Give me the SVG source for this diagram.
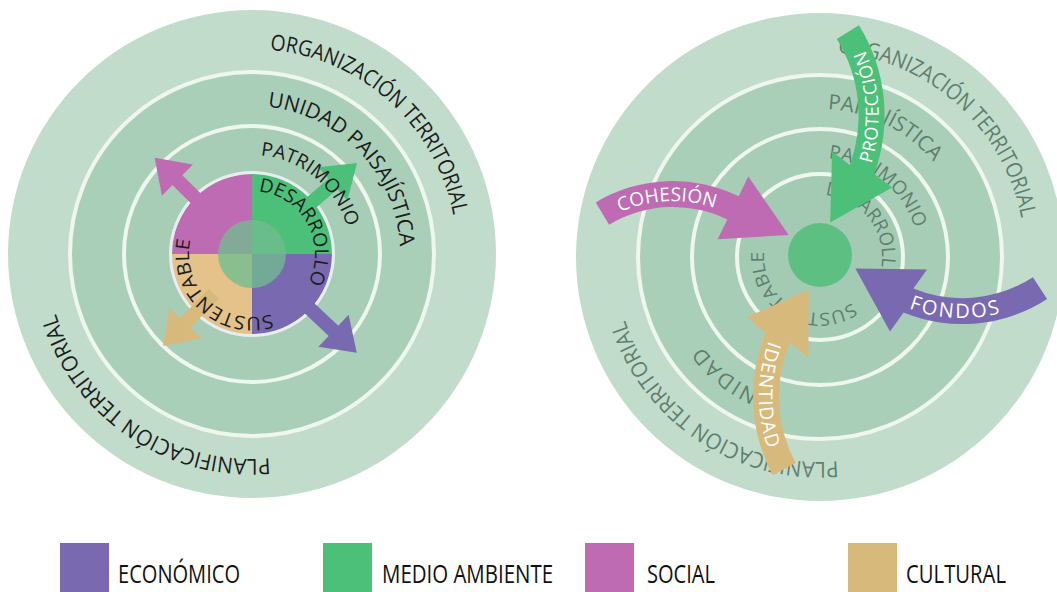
<svg xmlns="http://www.w3.org/2000/svg" width="1057" height="592" viewBox="0 0 1057 592">
<style>
  .outer{fill:#c1dccb}
  .band1{fill:#aacfb9}
  .band2{fill:#a7cdb6}
  .band3{fill:#a3cbb3}
  .ring{fill:none;stroke:#eef6ee;stroke-width:4}
  .t{font-family:"Open Sans","Noto Sans","Liberation Sans",sans-serif}
  .dark{fill:#1c1c1c}
  .grey{fill:#5f7e6d}
  .wht{fill:#ffffff}
  .leg{font-family:"Open Sans","Noto Sans","Liberation Sans",sans-serif;font-size:25px;fill:#111111}
  .eco{fill:#7869b0}
  .med{fill:#4cbf79}
  .soc{fill:#be6bb3}
  .cul{fill:#d8b97c}
</style>
<defs>
  <!-- left circle text paths, centre (252,254) -->
  <path id="L1" d="M269.87,49.78 A205,205 0 0 1 453.23,214.88"/>
  <path id="L2" d="M267.47,106.81 A148,148 0 0 1 399.8,246.25"/>
  <path id="L3" d="M260.63,155.38 A99,99 0 0 1 347.16,226.71"/>
  <path id="L4" d="M258.59,191.35 A63,63 0 0 1 308.13,282.6"/>
  <path id="L5" d="M271.47,313.92 A63,63 0 0 1 190.62,239.83"/>
  <path id="L6" d="M269.87,458.22 A205,205 0 0 1 55.96,313.94"/>
  <!-- right circle text paths, centre (820,257) -->
  <path id="R1" d="M837.87,52.78 A205,205 0 0 1 1021.23,217.88"/>
  <path id="R2" d="M827.75,109.2 A148,148 0 0 1 933.37,161.87"/>
  <path id="R3" d="M774.3,397.8 A148,148 0 0 1 698.8,341.9"/>
  <path id="R4" d="M828.63,158.38 A99,99 0 0 1 914.67,228.06"/>
  <path id="R5" d="M825.4,195.24 A62,62 0 0 1 877.49,280.23"/>
  <path id="R6" d="M852.12,302.87 A56,56 0 0 1 764.21,252.12"/>
  <path id="R7" d="M837.87,461.22 A205,205 0 0 1 625.03,320.35"/>
  <!-- arrow label paths -->
  <path id="A1" d="M620.1,212.2 A130,130 0 0 1 713.2,207.4"/>
  <path id="A2" d="M871.4,163.6 A165,165 0 0 0 864.3,48.3"/>
  <path id="A3" d="M908.8,308.2 A149.3,149.3 0 0 0 1000.9,313"/>
  <path id="A4" d="M768.8,340.7 A162.6,162.6 0 0 0 768.8,451.9"/>
</defs>

<!-- ================= LEFT DIAGRAM ================= -->
<g id="left-rings">
  <circle class="outer" cx="252" cy="254" r="244"/>
  <circle class="band1" cx="252" cy="254" r="182"/>
  <circle class="band2" cx="252" cy="254" r="128"/>
  <circle class="ring" cx="252" cy="254" r="182"/>
  <circle class="ring" cx="252" cy="254" r="128"/>
</g>
<g id="left-core">
  <path class="soc" d="M252,254 L172,254 A80,80 0 0 1 252,174 Z"/>
  <path class="med" d="M252,254 L252,174 A80,80 0 0 1 332,254 Z"/>
  <path class="eco" d="M252,254 L332,254 A80,80 0 0 1 252,334 Z"/>
  <path fill="#e4c289" d="M252,254 L252,334 A80,80 0 0 1 172,254 Z"/>
  <circle cx="252" cy="254" r="81.5" fill="none" stroke="#e9edf0" stroke-width="3"/>
  <circle cx="252" cy="254" r="34" fill="#72bd90" opacity="0.78"/>
</g>
<g id="left-arrows">
  <polygon class="soc" transform="translate(252,254) rotate(-135.3)" points="55,-7 105,-7 105,-22 137,0 105,22 105,7 55,7"/>
  <polygon class="med" transform="translate(252,254) rotate(-40.9)" points="55,-7 107,-7 107,-22 139,0 107,22 107,7 55,7"/>
  <polygon class="eco" transform="translate(252,254) rotate(43.3)" points="55,-7 112,-7 112,-22 144,0 112,22 112,7 55,7"/>
  <polygon class="cul" transform="translate(252,254) rotate(134)" points="55,-7 96,-7 96,-22 128,0 96,22 96,7 55,7"/>
</g>
<g id="left-labels" class="t dark">
  <text font-size="22"><textPath href="#L1" textLength="264.8" lengthAdjust="spacingAndGlyphs">ORGANIZACIÓN TERRITORIAL</textPath></text>
  <text font-size="21"><textPath href="#L2" textLength="209.2" lengthAdjust="spacingAndGlyphs">UNIDAD PAISAJÍSTICA</textPath></text>
  <text font-size="19"><textPath href="#L3" textLength="119.2" lengthAdjust="spacingAndGlyphs">PATRIMONIO</textPath></text>
  <text font-size="19"><textPath href="#L4" textLength="122" lengthAdjust="spacingAndGlyphs">DESARROLLO</textPath></text>
  <text font-size="19"><textPath href="#L5" textLength="133" lengthAdjust="spacingAndGlyphs">SUSTENTABLE</textPath></text>
  <text font-size="22"><textPath href="#L6" textLength="279.1" lengthAdjust="spacingAndGlyphs">PLANIFICACIÓN TERRITORIAL</textPath></text>
</g>

<!-- ================= RIGHT DIAGRAM ================= -->
<g id="right-rings">
  <circle class="outer" cx="820" cy="257" r="244"/>
  <circle class="band1" cx="820" cy="257" r="182"/>
  <circle class="band2" cx="820" cy="257" r="128"/>
  <circle class="band3" cx="820" cy="257" r="83"/>
  <circle class="ring" cx="820" cy="257" r="182"/>
  <circle class="ring" cx="820" cy="257" r="128"/>
  <circle class="ring" cx="820" cy="257" r="83"/>
</g>
<g id="right-labels" class="t grey">
  <text font-size="22"><textPath href="#R1" textLength="264.8" lengthAdjust="spacingAndGlyphs">ORGANIZACIÓN TERRITORIAL</textPath></text>
  <text font-size="21"><textPath href="#R2" textLength="121.4" lengthAdjust="spacingAndGlyphs">PAISAJÍSTICA</textPath></text>
  <text font-size="21"><textPath href="#R3" textLength="90" lengthAdjust="spacing">UNIDAD</textPath></text>
  <text font-size="19"><textPath href="#R4" textLength="117.5" lengthAdjust="spacingAndGlyphs">PATRIMONIO</textPath></text>
  <text font-size="19"><textPath href="#R5" textLength="115.8" lengthAdjust="spacingAndGlyphs">DESARROLLO</textPath></text>
  <text font-size="18"><textPath href="#R6" textLength="127.1" lengthAdjust="spacingAndGlyphs">SUSTENTABLE</textPath></text>
  <text font-size="22"><textPath href="#R7" textLength="275.5" lengthAdjust="spacingAndGlyphs">PLANIFICACIÓN TERRITORIAL</textPath></text>
</g>
<g id="right-core">
  <circle cx="820" cy="255" r="32" fill="#5ebf83"/>
</g>
<g id="right-arrows">
  <path id="arrow-cohesion" class="soc" d="M595.7,202.4 A150,150 0 0 1 738.7,196.2 L748.3,176.4 L788.7,235 L717.7,239.3 L727.3,219.5 A124,124 0 0 0 609.1,224.7 Z"/>
  <path id="arrow-proteccion" class="med" d="M858.9,25.3 A171,171 0 0 1 874.3,173.9 L892.1,187.4 L830.2,222.5 L832.1,151.4 L849.9,165 A145,145 0 0 0 836.8,39 Z"/>
  <path id="arrow-fondos" class="eco" d="M1047.1,298.9 A155.3,155.3 0 0 1 903.6,312.6 L890,331.4 L855.4,268.6 L927,269.6 L913.4,288.5 A129.3,129.3 0 0 0 1032.9,277.2 Z"/>
  <path id="arrow-identidad" class="cul" d="M772.6,475.2 A168.6,168.6 0 0 1 765.5,332.6 L746.5,317.3 L808.6,289.7 L808.5,357.7 L789.6,342.4 A142.6,142.6 0 0 0 795.5,463 Z"/>
</g>
<g id="arrow-labels" class="t wht">
  <text font-size="19"><textPath href="#A1" textLength="97" lengthAdjust="spacing">COHESIÓN</textPath></text>
  <text font-size="18"><textPath href="#A2" textLength="116" lengthAdjust="spacing">PROTECCIÓN</textPath></text>
  <text font-size="20"><textPath href="#A3" textLength="93" lengthAdjust="spacing">FONDOS</textPath></text>
  <text font-size="19"><textPath href="#A4" textLength="110" lengthAdjust="spacing">IDENTIDAD</textPath></text>
</g>

<!-- ================= LEGEND ================= -->
<g id="legend-economico">
  <rect class="eco" x="60" y="543" width="49" height="49"/>
  <text class="leg" x="118" y="583" textLength="122" lengthAdjust="spacingAndGlyphs">ECONÓMICO</text>
</g>
<g id="legend-medio-ambiente">
  <rect class="med" x="323" y="543" width="49" height="49"/>
  <text class="leg" x="382" y="583" textLength="171" lengthAdjust="spacingAndGlyphs">MEDIO AMBIENTE</text>
</g>
<g id="legend-social">
  <rect class="soc" x="585" y="543" width="49" height="49"/>
  <text class="leg" x="647" y="583" textLength="68" lengthAdjust="spacingAndGlyphs">SOCIAL</text>
</g>
<g id="legend-cultural">
  <rect class="cul" x="848" y="543" width="49" height="49"/>
  <text class="leg" x="906" y="583" textLength="100" lengthAdjust="spacingAndGlyphs">CULTURAL</text>
</g>
</svg>
